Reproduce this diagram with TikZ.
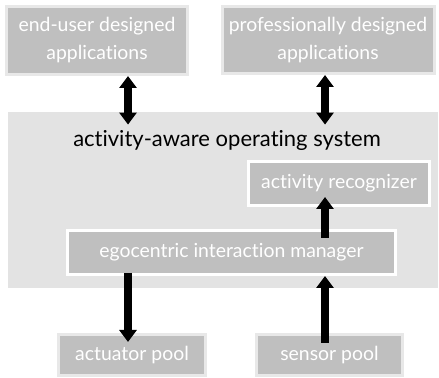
\documentclass[tikz,border=0pt]{standalone}
\usepackage{fontspec}
\setmainfont{Lato}[Ligatures={NoCommon}]
\usetikzlibrary{arrows.meta,calc}
\definecolor{boxgray}{RGB}{191,191,191}
\definecolor{boxedge}{RGB}{232,232,232}
\definecolor{osgray}{RGB}{227,227,227}

\begin{document}
\begin{tikzpicture}[x=0.5pt,y=-0.5pt,
		appbox/.style={
			draw=boxedge,fill=boxgray,line width=1.5pt,text=white,
			align=center,inner sep=0pt,font=\fontsize{9.7}{14}\selectfont
		},
		osbox/.style={
			draw=white,fill=boxgray,line width=1.5pt,text=white,
			inner sep=0pt,font=\fontsize{9.7}{14}\selectfont
		},
		bigarrow/.style={
			line width=4pt,
			-{Triangle[width=8.5pt,length=6pt]}
		},
		bothways/.style={
			line width=4pt,
			{Triangle[width=8.5pt,length=6pt]}-{Triangle[width=8.5pt,length=6pt]}
		}
	]
	\useasboundingbox (0,0) rectangle (439,378);
	\coordinate (lx) at (128,0);
	\coordinate (rx) at (325,0);
	% applications
	\node[appbox,minimum width=90.5pt,minimum height=34pt] (enduser) at (97,40.5)
		{end-user designed\\applications};
	\node[appbox,minimum width=106pt,minimum height=33.5pt] (pro) at (328,40)
		{professionally designed\\applications};
	% operating system
	\node[fill=osgray,inner sep=0pt,minimum width=215pt,minimum height=88pt] (os) at (223,200) {};
	\node[font=\fontsize{11}{13}\selectfont] (title) at (227,140) {activity-aware operating system};
	\node[osbox,minimum width=90.5pt,minimum height=22pt] (rec) at (339,183.5) {activity recognizer};
	\node[osbox,minimum width=164pt,minimum height=22pt] (ego) at (231.5,252.5) {egocentric interaction manager};
	% pools
	\node[appbox,minimum width=73.5pt,minimum height=20.5pt] (act) at (132,355) {actuator pool};
	\node[appbox,minimum width=73pt,minimum height=20.5pt] (sen) at (329.5,355) {sensor pool};
	% arrows
	\draw[bothways] (enduser.south -| lx) -- ($(os.north -| lx)+(0,13)$);
	\draw[bothways] (pro.south -| rx) -- ($(os.north -| rx)+(0,13)$);
	\draw[bigarrow] ($(ego.north -| rx)+(0,9)$) -- ($(rec.south -| rx)+(0,-10)$);
	\draw[bigarrow] ($(ego.south -| lx)+(0,-3)$) -- ($(act.north -| lx)+(0,9)$);
	\draw[bigarrow] ($(sen.north -| rx)+(0,10)$) -- (ego.south -| rx);
\end{tikzpicture}
\end{document}
